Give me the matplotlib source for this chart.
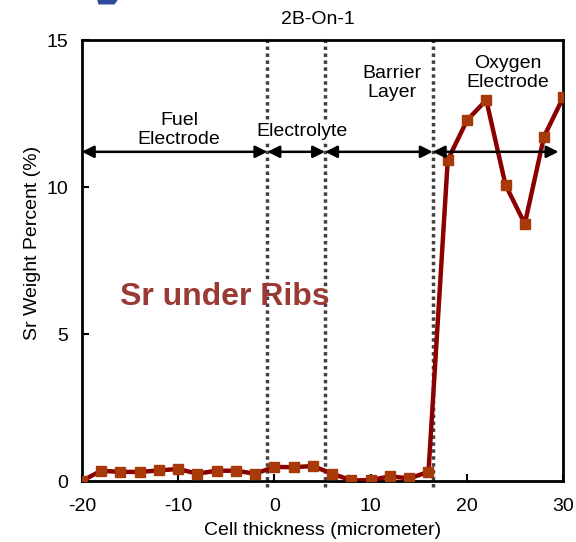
import matplotlib.pyplot as plt
from matplotlib.patches import Polygon

plt.rcParams['font.family'] = ['Liberation Sans', 'DejaVu Sans']
plt.rcParams['axes.unicode_minus'] = False

# Sr profile across the cell
thickness = [-20, -18, -16, -14, -12, -10, -8, -6, -4, -2, 0, 2, 4, 6, 8, 10, 12, 14, 16,
             18, 20, 22, 24, 26, 28, 30]
sr_percent = [0.0, 0.35, 0.31, 0.31, 0.36, 0.41, 0.25, 0.35, 0.35, 0.25, 0.48, 0.47, 0.51,
              0.25, 0.02, 0.03, 0.16, 0.09, 0.31,
              10.92, 12.27, 12.96, 10.07, 8.75, 11.72, 13.06]

# layer boundaries and labels
boundaries = [-0.73, 5.26, 16.44]
region_edges = [-20, -0.73, 5.26, 16.44, 29.5]
region_labels = ['Fuel\nElectrode', 'Electrolyte', 'Barrier\nLayer', 'Oxygen\nElectrode']
label_x = [-9.9, 2.82, 12.16, 24.2]
label_y = [11.94, 11.9, 13.54, 13.88]

fig = plt.figure(figsize=(5.76, 5.42), dpi=100)
ax = fig.add_axes([0.142, 0.1125, 0.836, 0.8135])

ax.plot(thickness, sr_percent, color='#8b0000', lw=3.2, marker='s', ms=7,
        markerfacecolor='#a83a0a', markeredgecolor='#a83a0a', zorder=3)

for b in boundaries:
    ax.plot([b, b], [-0.2, 15.1], color='#404040', lw=2.5, ls=(0, (1, 1)),
            clip_on=False, zorder=2)

arrow_y = 11.2
for x0, x1 in zip(region_edges[:-1], region_edges[1:]):
    ax.annotate('', xy=(x1, arrow_y), xytext=(x0, arrow_y),
                arrowprops=dict(arrowstyle='<|-|>', color='black', lw=1.8,
                                mutation_scale=18, shrinkA=0, shrinkB=0),
                zorder=4)

for txt, x, y in zip(region_labels, label_x, label_y):
    ax.text(x, y, txt, ha='center', va='center', fontsize=14, linespacing=1.2,
            zorder=3.5, bbox=dict(facecolor='white', edgecolor='none', pad=1))

ax.text(4.5, 15.7, '2B-On-1', ha='center', va='center', fontsize=14)
ax.text(-16.0, 6.26, 'Sr under Ribs', ha='left', va='center', fontsize=23,
        fontweight='bold', color='#9a3a34')

ax.set_xlim(-20, 30)
ax.set_ylim(0, 15)
ax.set_xticks([-20, -10, 0, 10, 20, 30])
ax.set_yticks([0, 5, 10, 15])
ax.tick_params(direction='in', length=5, width=1.5, labelsize=14)
ax.tick_params(axis='x', pad=12)
ax.tick_params(axis='y', pad=10)
for s in ax.spines.values():
    s.set_linewidth(2)

ax.set_xlabel('Cell thickness (micrometer)', fontsize=14, labelpad=5)
ax.set_ylabel('Sr Weight Percent (%)', fontsize=14, labelpad=4, y=0.54)

# stray blue mark at the top edge
fig.patches.append(Polygon([(0.170, 1.0), (0.203, 1.0), (0.198, 0.993), (0.172, 0.993)],
                           closed=True, transform=fig.transFigure,
                           color='#2a4a9a', zorder=5))

fig.savefig('out.png', dpi=100)
